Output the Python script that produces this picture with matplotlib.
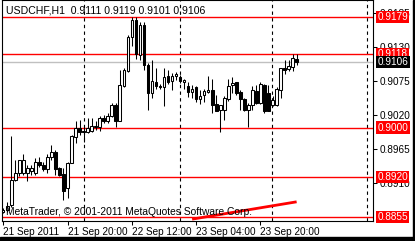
import matplotlib
matplotlib.use("Agg")
import matplotlib.pyplot as plt
from matplotlib.patches import Rectangle

plt.rcParams["font.family"] = ["Liberation Sans", "DejaVu Sans"]

# USDCHF H1 candles (bar index 0 = 21 Sep 2011 04:00)
opens = [0.8864, 0.8867, 0.8875, 0.8916, 0.8926, 0.8927, 0.8926, 0.8929, 0.8927, 0.8945,
         0.8940, 0.8933, 0.8953, 0.8960, 0.8934, 0.8925, 0.8902, 0.8943, 0.8984, 0.8999,
         0.8995, 0.8993, 0.8995, 0.9001, 0.9001, 0.9016, 0.9010, 0.9019, 0.9037, 0.9011,
         0.9067, 0.9091, 0.9147, 0.9174, 0.9117, 0.9166, 0.9101, 0.9056, 0.9074, 0.9067,
         0.9065, 0.9083, 0.9075, 0.9083, 0.9081, 0.9074, 0.9067, 0.9058, 0.9065, 0.9046,
         0.9052, 0.9057, 0.9061, 0.9038, 0.9028, 0.9028, 0.9046, 0.9068, 0.9073, 0.9058,
         0.9046, 0.9028, 0.9036, 0.9059, 0.9040, 0.9069, 0.9055, 0.9036, 0.9036, 0.9061,
         0.9096, 0.9094, 0.9098, 0.9111]
highs = [0.8870, 0.8879, 0.8986, 0.8948, 0.8948, 0.8958, 0.8940, 0.8940, 0.8950, 0.8953,
         0.8945, 0.8958, 0.8972, 0.8964, 0.8937, 0.8934, 0.8945, 0.8988, 0.9010, 0.9012,
         0.9004, 0.9015, 0.9015, 0.9010, 0.9018, 0.9020, 0.9023, 0.9039, 0.9039, 0.9093,
         0.9096, 0.9149, 0.9178, 0.9178, 0.9171, 0.9171, 0.9104, 0.9109, 0.9096, 0.9071,
         0.9096, 0.9093, 0.9088, 0.9089, 0.9085, 0.9079, 0.9074, 0.9069, 0.9067, 0.9061,
         0.9063, 0.9083, 0.9079, 0.9053, 0.9037, 0.9051, 0.9079, 0.9082, 0.9074, 0.9061,
         0.9047, 0.9040, 0.9067, 0.9069, 0.9074, 0.9071, 0.9069, 0.9051, 0.9066, 0.9096,
         0.9109, 0.9109, 0.9118, 0.9119]
lows = [0.8862, 0.8864, 0.8872, 0.8914, 0.8921, 0.8923, 0.8913, 0.8923, 0.8923, 0.8937,
        0.8929, 0.8926, 0.8948, 0.8923, 0.8921, 0.8883, 0.8886, 0.8942, 0.8975, 0.8988,
        0.8976, 0.8991, 0.8993, 0.8996, 0.8995, 0.9007, 0.9007, 0.9017, 0.9001, 0.9010,
        0.9065, 0.9090, 0.9131, 0.9110, 0.9109, 0.9093, 0.9029, 0.9047, 0.9063, 0.9063,
        0.9034, 0.9071, 0.9060, 0.9077, 0.9072, 0.9063, 0.9049, 0.9047, 0.9042, 0.9038,
        0.9042, 0.9055, 0.9024, 0.9026, 0.8993, 0.9012, 0.9043, 0.9055, 0.9053, 0.9028,
        0.9027, 0.9001, 0.9028, 0.9038, 0.9038, 0.9024, 0.9026, 0.9034, 0.9034, 0.9047,
        0.9086, 0.9091, 0.9092, 0.9101]
closes = [0.8867, 0.8874, 0.8916, 0.8927, 0.8947, 0.8948, 0.8934, 0.8934, 0.8945, 0.8940,
          0.8933, 0.8953, 0.8961, 0.8933, 0.8923, 0.8898, 0.8943, 0.8986, 0.8999, 0.8992,
          0.8993, 0.9000, 0.9003, 0.9003, 0.9015, 0.9010, 0.9019, 0.9037, 0.9010, 0.9068,
          0.9093, 0.9146, 0.9173, 0.9118, 0.9166, 0.9101, 0.9056, 0.9075, 0.9067, 0.9065,
          0.9082, 0.9074, 0.9084, 0.9086, 0.9075, 0.9077, 0.9058, 0.9063, 0.9046, 0.9051,
          0.9059, 0.9060, 0.9036, 0.9027, 0.9036, 0.9047, 0.9067, 0.9072, 0.9055, 0.9046,
          0.9028, 0.9037, 0.9061, 0.9040, 0.9070, 0.9026, 0.9027, 0.9044, 0.9063, 0.9096,
          0.9093, 0.9099, 0.9112, 0.9106]

level_lines = [0.9179, 0.9118, 0.9000, 0.8920, 0.8855]
bid = 0.9106
separators = [20, 44, 66.8, 90.5]
date_ticks = [0, 16, 32, 48, 64]
date_labels = ["21 Sep 2011", "21 Sep 20:00", "22 Sep 12:00", "23 Sep 04:00", "23 Sep 20:00"]
price_ticks = [0.8910, 0.8965, 0.9020, 0.9075, 0.9130, 0.9185]
trend_x = [47, 73]
trend_y = [0.8852, 0.8880]

W, H = 415, 241
fig = plt.figure(figsize=(W / 100, H / 100), dpi=100, facecolor="white")
ax = fig.add_axes([2 / W, 20 / H, 371 / W, 221 / H])
ax.set_facecolor("white")

# candles
for i in range(len(opens)):
    o, h, l, c = opens[i], highs[i], lows[i], closes[i]
    ax.vlines(i, l, h, color="black", lw=0.75, zorder=3)
    bottom = min(o, c)
    height = max(abs(c - o), 0.00003)
    face = "white" if c >= o else "black"
    ax.add_patch(Rectangle((i - 0.32, bottom), 0.64, height, facecolor=face,
                           edgecolor="black", lw=0.75, zorder=4))

for lv in level_lines:
    ax.axhline(lv, color="red", lw=1.0, zorder=2)
ax.axhline(bid, color="#c0c0c0", lw=1.0, zorder=1)
for s in separators:
    ax.axvline(s, color="black", lw=0.8, linestyle=(0, (3, 3)), zorder=1)

ax.plot(trend_x, trend_y, color="red", lw=2.0, solid_capstyle="butt", zorder=5)

ax.set_xlim(-0.3, 92)
ax.set_ylim(0.88490, 0.92060)

ax.yaxis.tick_right()
ax.set_yticks(price_ticks)
ax.set_yticklabels(["%.4f" % p for p in price_ticks])
ax.set_xticks(date_ticks)
ax.set_xticklabels(date_labels, ha="left")
ax.tick_params(axis="both", direction="out", length=3, width=0.75, labelsize=7.2,
               colors="black", pad=1.5)
for sp in ax.spines.values():
    sp.set_color("black")
    sp.set_linewidth(0.8)

# price labels on the right scale
ytr = ax.get_yaxis_transform()
for lv in level_lines:
    ax.text(1.012, lv, "%.4f" % lv, transform=ytr, color="white", fontsize=7.2,
            va="center", ha="left", clip_on=False, zorder=10,
            bbox=dict(boxstyle="square,pad=0.12", facecolor="red", edgecolor="none"))
ax.text(1.012, bid, "%.4f" % bid, transform=ytr, color="white", fontsize=7.2,
        va="center", ha="left", clip_on=False, zorder=10,
        bbox=dict(boxstyle="square,pad=0.12", facecolor="black", edgecolor="none"))

ax.text(0.011, 0.941, "USDCHF,H1  %.4f %.4f %.4f %.4f" % (opens[-1], highs[-1], lows[-1], closes[-1]),
        transform=ax.transAxes, fontsize=7.6, color="black", va="baseline", ha="left", zorder=6)
ax.text(0.011, 0.027, "MetaTrader, \u00a9 2001-2011 MetaQuotes Software Corp.",
        transform=ax.transAxes, fontsize=7.4, color="black", va="baseline", ha="left", zorder=6)

# dark window border
fig.patches.append(Rectangle((0, 0), 1, 4 / H, transform=fig.transFigure, color="black"))
fig.patches.append(Rectangle((413 / W, 0), 2 / W, 1, transform=fig.transFigure, color="black"))

fig.savefig("out.png", dpi=100, facecolor="white")
